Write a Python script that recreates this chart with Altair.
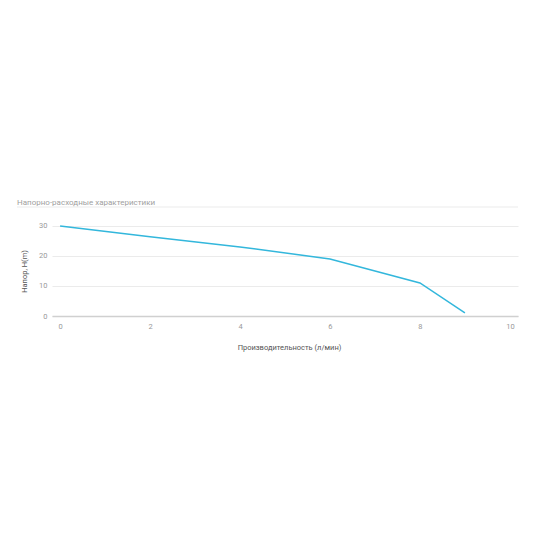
import altair as alt
import pandas as pd

flow = [0, 2, 4, 6, 8, 9]
head = [30, 26.4, 23, 19, 11, 1]
x_ticks = [0, 2, 4, 6, 8, 10]
y_ticks = [0, 10, 20, 30]

df = pd.DataFrame({"flow": flow, "head": head})

FONT = "Roboto"

line = alt.Chart(df).mark_line(color="#33b7dc", strokeWidth=1.5, clip=False).encode(
    x=alt.X("flow:Q",
            scale=alt.Scale(domain=[-0.18, 10.18], nice=False, zero=False),
            axis=alt.Axis(values=x_ticks, title="Производительность (л/мин)",
                          grid=False, ticks=False, domainColor="#d0d0d0", domainWidth=1.5,
                          labelColor="#999999", labelFontSize=7.5, labelPadding=6,
                          titleColor="#555555", titleFontSize=7.5, titleFontWeight="normal",
                          titlePadding=14, titleX=237, labelFont=FONT, titleFont=FONT)),
    y=alt.Y("head:Q",
            scale=alt.Scale(domain=[0, 36.3], nice=False),
            axis=alt.Axis(values=y_ticks, title="Напор, H(m)",
                          grid=True, gridColor="#ebebeb", ticks=False, domain=False,
                          labelColor="#999999", labelFontSize=7.5, labelPadding=5,
                          titleColor="#555555", titleFontSize=7.5, titleFontWeight="normal",
                          titlePadding=10, titleY=64, labelFont=FONT, titleFont=FONT)),
)

sep = alt.Chart(pd.DataFrame({"a": [0]})).mark_rule(color="#ebebeb", strokeWidth=1).encode(
    x=alt.value(-35), x2=alt.value(466), y=alt.value(0)
)

chart = alt.layer(sep, line).properties(
    width=466, height=109,
    title=alt.TitleParams("Напорно-расходные характеристики", anchor="start", frame="group",
                          dx=-35, offset=0, fontSize=8, fontWeight="normal",
                          color="#a0a0a0", font=FONT),
    autosize=alt.AutoSizeParams(type="none"),
    padding={"left": 44, "top": 199, "right": 16, "bottom": 200},
).configure_view(stroke=None)

chart.save("out.html", embed_options={"renderer": "svg", "actions": False})
